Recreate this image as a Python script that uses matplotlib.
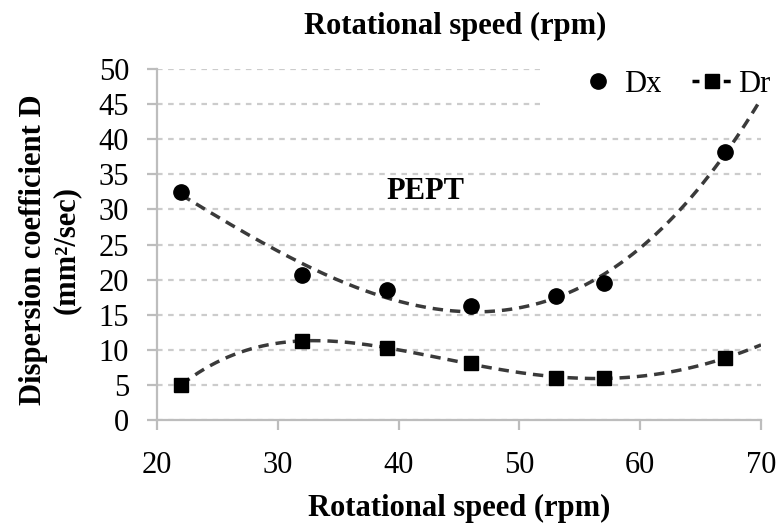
import numpy as np
import matplotlib.pyplot as plt
from matplotlib.lines import Line2D
from matplotlib.patches import Rectangle

# data
speed = [22, 32, 39, 46, 53, 57, 67]
dx = [32.5, 20.7, 18.5, 16.2, 17.6, 19.5, 38.2]
dr = [5.0, 11.3, 10.2, 8.1, 6.0, 6.0, 8.8]
x_ticks = [20, 30, 40, 50, 60, 70]
y_ticks = [0, 5, 10, 15, 20, 25, 30, 35, 40, 45, 50]

plt.rcParams['font.family'] = ['Liberation Serif', 'DejaVu Serif']
W, H = 783, 529
grid_col = '#cccccc'
axis_col = '#bdbdbd'

fig = plt.figure(figsize=(W / 100, H / 100), dpi=100)
ax = fig.add_axes([157 / W, 1 - 420 / H, (761 - 157) / W, (420 - 69) / H])

# polynomial trend lines (spreadsheet style trendline)
xs = np.linspace(22, 70, 200)
px = np.polyfit(speed, dx, 3)
pr = np.polyfit(speed, dr, 4)
ax.plot(xs, np.polyval(px, xs), ls=(0, (3, 2)), color='#3a3a3a', lw=2.5, zorder=3)
ax.plot(xs, np.polyval(pr, xs), ls=(0, (3, 2)), color='#3a3a3a', lw=2.5, zorder=3)

ax.plot(speed, dx, 'o', color='black', ms=11, zorder=4)
ax.plot(speed, dr, 's', color='black', ms=10, zorder=4)

ax.set_xlim(20, 70)
ax.set_ylim(0, 50)
ax.set_xticks(x_ticks)
ax.set_yticks(y_ticks)
ax.yaxis.grid(True, ls=(0, (2.5, 2.5)), color=grid_col, lw=1.6)
ax.set_axisbelow(True)
for s in ['top', 'right']:
    ax.spines[s].set_visible(False)
for s in ['left', 'bottom']:
    ax.spines[s].set_color(axis_col)
    ax.spines[s].set_linewidth(1.6)
ax.tick_params(axis='x', colors=axis_col, length=7, width=1.6, pad=15, labelcolor='black', labelsize=22)
ax.tick_params(axis='y', colors=axis_col, length=7, width=1.6, pad=13, labelcolor='black', labelsize=22)

# white area behind the legend hides the top grid lines
ax.add_patch(Rectangle((51.7, 44.2), 25, 10, facecolor='white', edgecolor='none',
                       zorder=1, clip_on=False))

fig.text(459 / W, 1 - 508 / H, 'Rotational speed (rpm)', fontsize=22, fontweight='bold',
         ha='center', va='center')
fig.text(50 / W, 1 - 250 / H, 'Dispersion coefficient D\n(mm²/sec)', fontsize=22,
         fontweight='bold', ha='center', va='center', rotation=90, multialignment='center')
fig.text(455 / W, 1 - 26 / H, 'Rotational speed (rpm)', fontsize=22, fontweight='bold',
         ha='center', va='center')
ax.text(42.2, 32.5, 'PEPT', fontsize=22, fontweight='bold', ha='center', va='center')

handles = [
    Line2D([], [], ls='none', marker='o', color='black', ms=11),
    Line2D([], [], ls=(0, (2, 2.5)), marker='s', color='black', ms=10, lw=2.5),
]
leg = fig.legend(handles, ['Dx', 'Dr'], loc='center right', bbox_to_anchor=(770 / W, 1 - 84 / H),
                 ncol=2, frameon=False, fontsize=22, handlelength=1.3, columnspacing=1.0,
                 handletextpad=0.2, borderpad=0, borderaxespad=0)

fig.savefig('out.png', dpi=100)
